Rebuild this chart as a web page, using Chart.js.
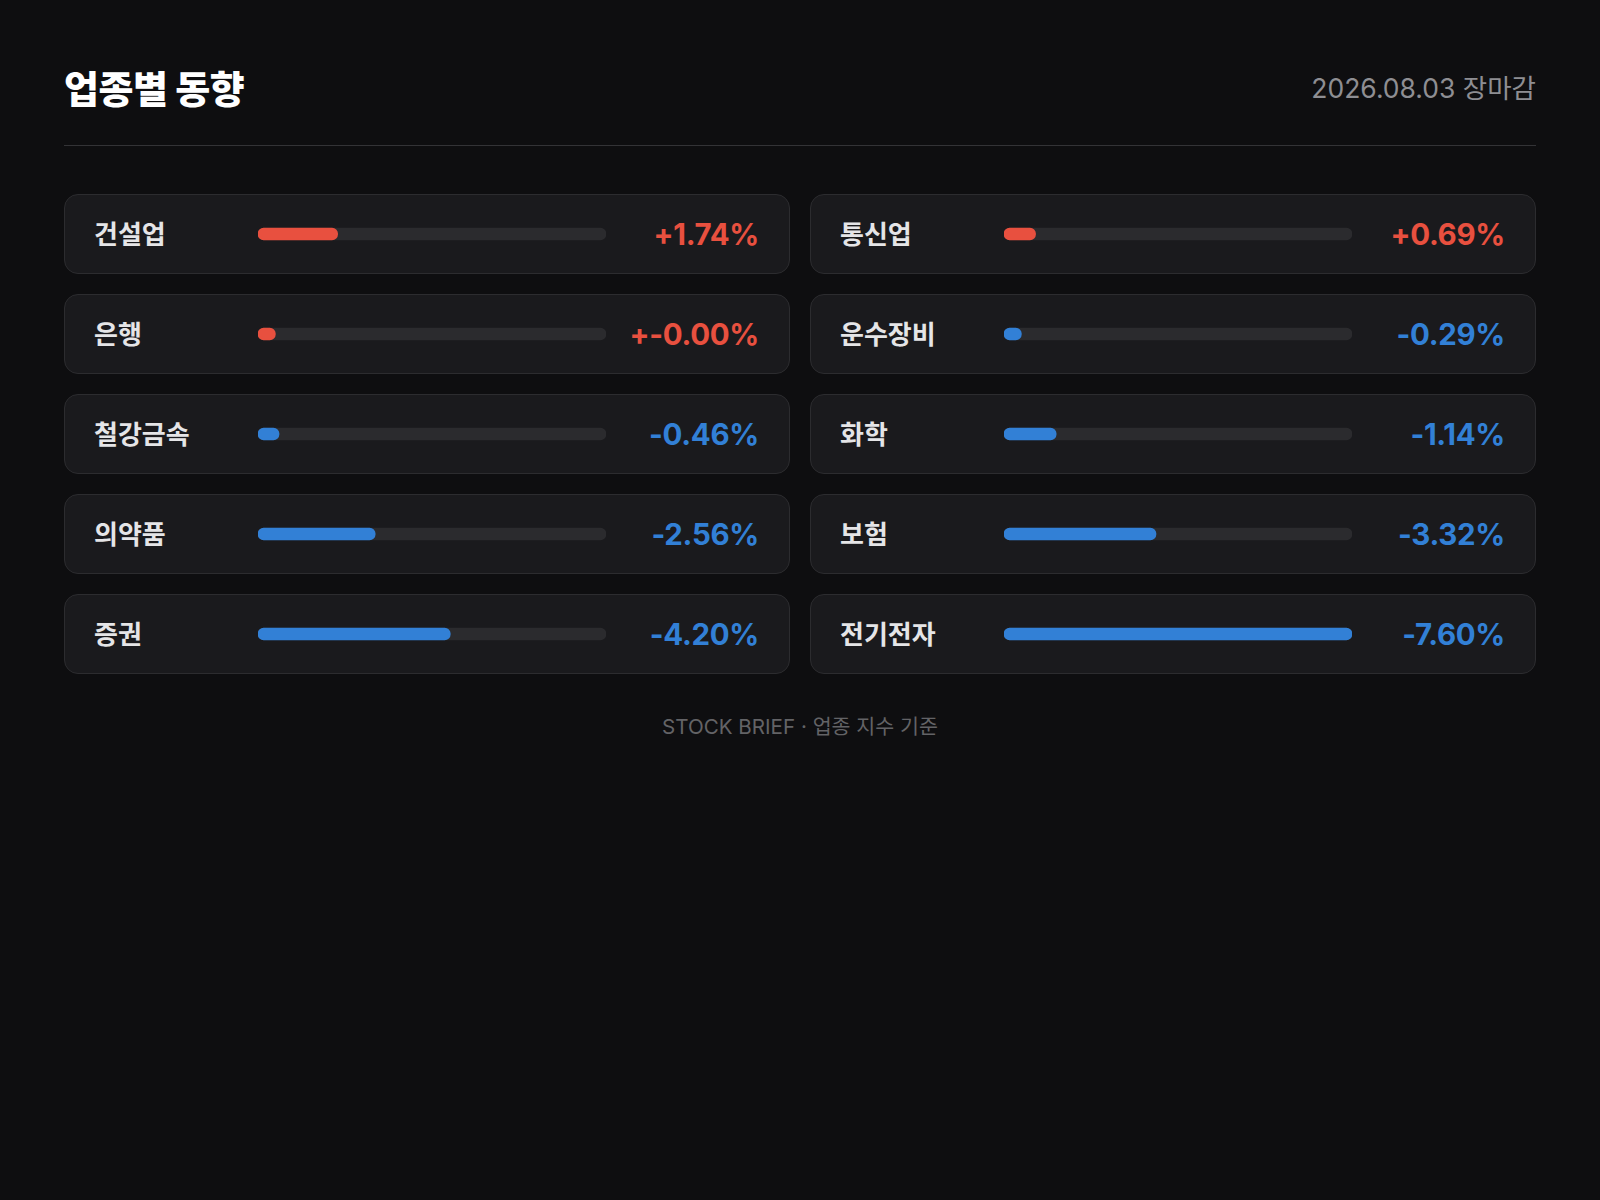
<!DOCTYPE html>
<html lang="ko">
<head>
  <meta charset="UTF-8">
  <meta name="viewport" content="width=device-width, initial-scale=1.0">
  <title>업종별 동향</title>
  <style>
    body {
      margin: 0;
      width: 1600px;
      height: 1200px;
      background: #0e0e10;
      font-family: 'Inter', 'Noto Sans CJK KR', sans-serif;
      position: relative;
      overflow: hidden;
    }
    .title {
      position: absolute;
      left: 64px;
      top: 67px;
      line-height: 44px;
      font-size: 38px;
      font-weight: 800;
      color: #ffffff;
      letter-spacing: -0.5px;
    }
    .date {
      position: absolute;
      right: 64px;
      top: 72px;
      line-height: 32px;
      font-size: 26.5px;
      color: #8e8e93;
    }
    .divider {
      position: absolute;
      left: 64px;
      top: 145px;
      width: 1472px;
      height: 1px;
      background: #333336;
    }
    .grid {
      position: absolute;
      left: 64px;
      top: 194px;
      width: 1472px;
      display: grid;
      grid-template-columns: 726px 726px;
      grid-auto-rows: 80px;
      column-gap: 20px;
      row-gap: 20px;
    }
    .card {
      box-sizing: border-box;
      background: #1a1a1d;
      border: 1px solid #2c2c2f;
      border-radius: 14px;
      display: flex;
      align-items: center;
      padding: 0 30px 0 29px;
    }
    .card .name {
      width: 164px;
      flex: none;
      font-size: 26px;
      font-weight: 600;
      color: #e5e5e7;
      position: relative;
      top: -2px;
    }
    .card .gap {
      width: 348px;
      flex: none;
    }
    .card .value {
      flex: 1;
      text-align: right;
      font-size: 29.5px;
      font-weight: 700;
      letter-spacing: -0.3px;
    }
    .bars {
      position: absolute;
      top: 184px;
      width: 348px;
      height: 500px;
    }
    .footer {
      position: absolute;
      left: 0;
      top: 714px;
      width: 1600px;
      text-align: center;
      line-height: 26px;
      font-size: 20.6px;
      color: #636366;
    }
  </style>
</head>
<body>

<div class="title">업종별 동향</div>
<div class="date">2026.08.03 장마감</div>
<div class="divider"></div>
<div class="grid" id="grid"></div>
<div class="bars" style="left: 258px;"><canvas id="leftChart"></canvas></div>
<div class="bars" style="left: 1004px;"><canvas id="rightChart"></canvas></div>
<div class="footer">STOCK BRIEF · 업종 지수 기준</div>

<script src="https://cdn.jsdelivr.net/npm/chart.js"></script>
<script>
  // sectors sorted by change, read row by row (left, right)
  const sectors = ['건설업', '통신업', '은행', '운수장비', '철강금속', '화학', '의약품', '보험', '증권', '전기전자'];
  const changes = [1.74, 0.69, -0.004, -0.29, -0.46, -1.14, -2.56, -3.32, -4.20, -7.60];
  const changeLabels = ['+1.74%', '+0.69%', '+-0.00%', '-0.29%', '-0.46%', '-1.14%', '-2.56%', '-3.32%', '-4.20%', '-7.60%'];

  const UP = '#e8503f';
  const DOWN = '#3280d6';
  const TRACK = '#2b2b2e';

  const colorFor = i => changeLabels[i].startsWith('+') ? UP : DOWN;

  // cards (text only, bars come from chart.js)
  const grid = document.getElementById('grid');
  sectors.forEach((name, i) => {
    const card = document.createElement('div');
    card.className = 'card';
    card.innerHTML = `<div class="name">${name}</div><div class="gap"></div>` +
      `<div class="value" style="color:${colorFor(i)}">${changeLabels[i]}</div>`;
    grid.appendChild(card);
  });

  const maxAbs = Math.max(...changes.map(v => Math.abs(v)));

  function buildChart(canvasId, idx) {
    const labels = idx.map(i => sectors[i]);
    // short bars still get a visible stub
    const fill = idx.map(i => Math.max(Math.abs(changes[i]), maxAbs * 0.05));
    new Chart(document.getElementById(canvasId), {
      type: 'bar',
      data: {
        labels: labels,
        datasets: [
          {
            data: fill,
            backgroundColor: idx.map(colorFor),
            barThickness: 12,
            borderRadius: 6,
            borderSkipped: false,
            grouped: false,
            order: 0
          },
          {
            data: idx.map(() => maxAbs),
            backgroundColor: TRACK,
            barThickness: 12,
            borderRadius: 6,
            borderSkipped: false,
            grouped: false,
            order: 1
          }
        ]
      },
      options: {
        indexAxis: 'y',
        responsive: true,
        maintainAspectRatio: false,
        animation: false,
        events: [],
        layout: { padding: 0 },
        plugins: { legend: { display: false }, tooltip: { enabled: false } },
        scales: {
          x: { display: false, min: 0, max: maxAbs },
          y: { display: false }
        }
      }
    });
  }

  buildChart('leftChart', [0, 2, 4, 6, 8]);
  buildChart('rightChart', [1, 3, 5, 7, 9]);
</script>

</body>
</html>
